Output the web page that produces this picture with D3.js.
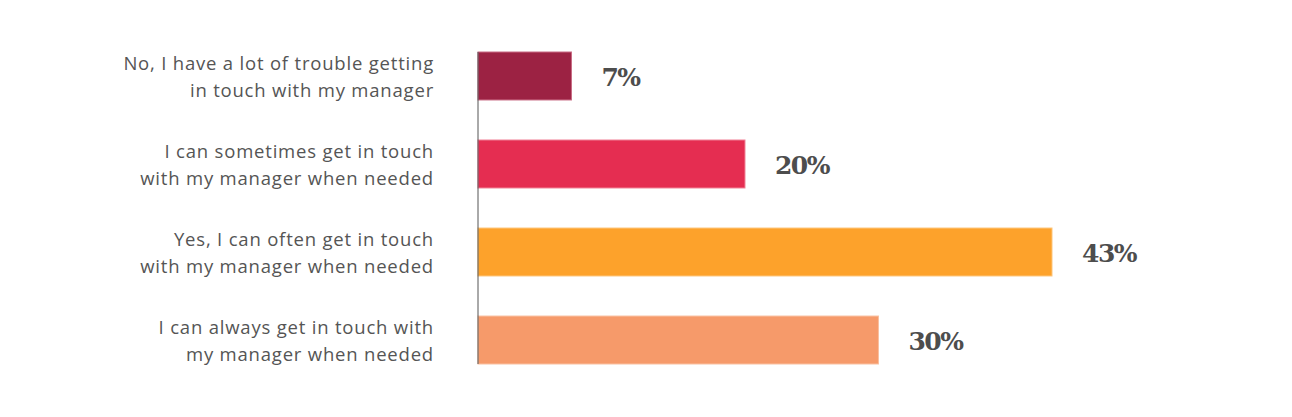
<!DOCTYPE html>
<html>
<head>
<meta charset="utf-8">
<script src="https://cdn.jsdelivr.net/npm/d3@7"></script>
<style>
  body { margin: 0; background: #fff; }
</style>
</head>
<body>
<div id="chart"></div>
<script>
var categories = [
    ["No, I have a lot of trouble getting", "in touch with my manager"],
    ["I can sometimes get in touch", "with my manager when needed"],
    ["Yes, I can often get in touch", "with my manager when needed"],
    ["I can always get in touch with", "my manager when needed"]
];
var values = [7, 20, 43, 30];
var colors = ["#9c2243", "#e52d51", "#fda22b", "#f69a6a"];
var strokes = ["#c86a83", "#f07d93", "#fdc57b", "#f9bf9f"];

var width = 1292, height = 417;
var svg = d3.select("#chart").append("svg")
    .attr("width", width)
    .attr("height", height);

var x = d3.scaleLinear().domain([0, 43]).range([478, 1052]);
var y = d3.scaleBand().domain(d3.range(categories.length))
    .range([30, 386]).paddingInner(0.455).paddingOuter(0.25);

// bars
svg.selectAll("rect.bar")
    .data(values)
    .enter().append("rect")
    .attr("class", "bar")
    .attr("x", x(0))
    .attr("y", function(d, i) { return y(i); })
    .attr("width", function(d) { return x(d) - x(0); })
    .attr("height", y.bandwidth())
    .attr("fill", function(d, i) { return colors[i]; })
    .attr("stroke", function(d, i) { return strokes[i]; })
    .attr("stroke-width", 1);

// axis line
svg.append("line")
    .attr("x1", x(0)).attr("x2", x(0))
    .attr("y1", y(0)).attr("y2", y(categories.length - 1) + y.bandwidth())
    .attr("stroke", "#555")
    .attr("stroke-width", 1);

// value labels
svg.selectAll("text.val")
    .data(values)
    .enter().append("text")
    .attr("class", "val")
    .attr("x", function(d) { return x(d) + 30; })
    .attr("y", function(d, i) { return y(i) + y.bandwidth() / 2; })
    .attr("dy", "0.4em")
    .style("font-family", "'DejaVu Serif', serif")
    .style("font-weight", "bold")
    .style("font-size", "25px")
    .style("fill", "#4d4d4d")
    .style("letter-spacing", "-1.5px")
    .text(function(d) { return d + "%"; });

// category labels
var labels = svg.selectAll("text.cat")
    .data(categories)
    .enter().append("text")
    .attr("class", "cat")
    .attr("text-anchor", "end")
    .attr("y", function(d, i) { return y(i) + y.bandwidth() / 2; })
    .style("font-family", "'Open Sans', sans-serif")
    .style("font-size", "18.5px")
    .style("letter-spacing", "0.8px")
    .style("fill", "#555");

labels.selectAll("tspan")
    .data(function(d) { return d; })
    .enter().append("tspan")
    .attr("x", 434)
    .attr("dy", function(d, i) { return i === 0 ? "-0.3em" : "1.42em"; })
    .text(function(d) { return d; });
</script>
</body>
</html>
